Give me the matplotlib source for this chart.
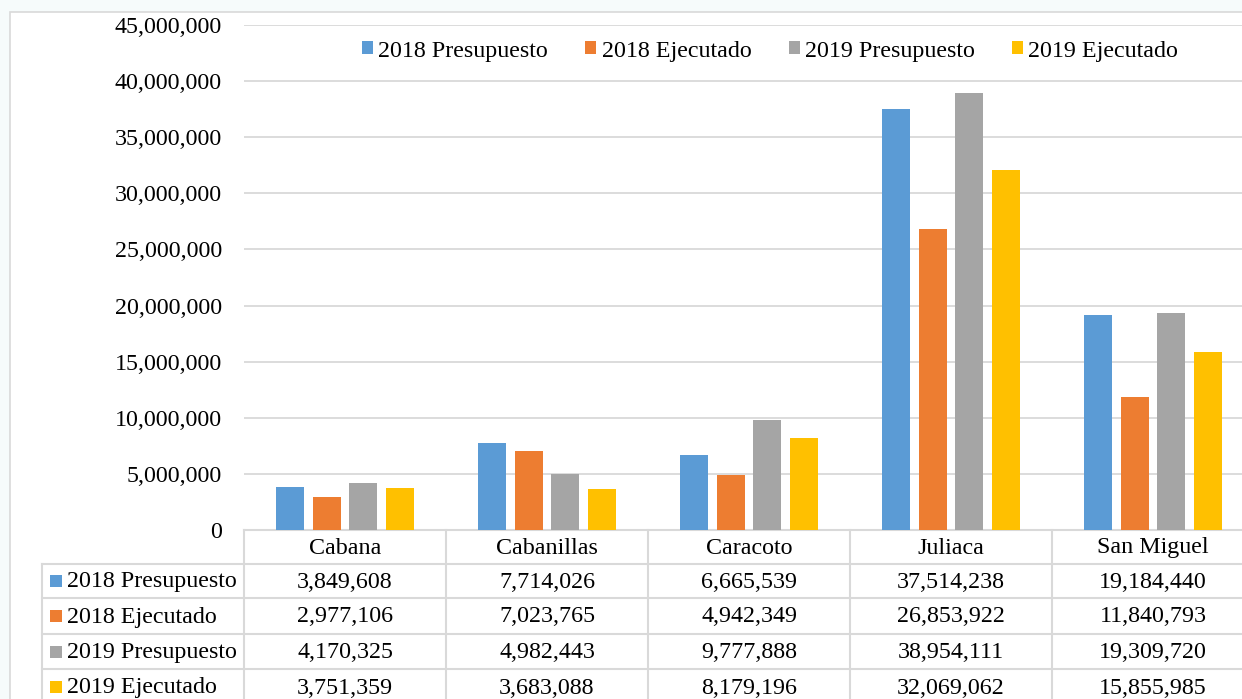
import numpy as np
import matplotlib
matplotlib.use("Agg")
import matplotlib.pyplot as plt
from matplotlib.patches import Rectangle
from matplotlib.lines import Line2D
from matplotlib.ticker import FuncFormatter

# ── data ────────────────────────────────────────────────────────────────────
categories = ["Cabana", "Cabanillas", "Caracoto", "Juliaca", "San Miguel"]
series = ["2018 Presupuesto", "2018 Ejecutado", "2019 Presupuesto", "2019 Ejecutado"]
pres_2018 = [3849608, 7714026, 6665539, 37514238, 19184440]
ejec_2018 = [2977106, 7023765, 4942349, 26853922, 11840793]
pres_2019 = [4170325, 4982443, 9777888, 38954111, 19309720]
ejec_2019 = [3751359, 3683088, 8179196, 32069062, 15855985]
values = [pres_2018, ejec_2018, pres_2019, ejec_2019]
colors = ["#5b9bd5", "#ed7d31", "#a5a5a5", "#ffc000"]

W, H = 1242, 699
GRID = "#d9d9d9"
plt.rcParams["font.family"] = ["Liberation Serif", "DejaVu Serif"]
FS = 17.3

fig = plt.figure(figsize=(W / 100, H / 100), dpi=100, facecolor="#f6fbfb")

# overlay in pixel coordinates for frame + table
ov = fig.add_axes([0, 0, 1, 1], zorder=0)
ov.set_xlim(0, W)
ov.set_ylim(H, 0)
ov.axis("off")
ov.add_patch(Rectangle((10, 12), W + 50, H + 50, facecolor="white", edgecolor=GRID, lw=1.2))

# main plot area: x from 244 to 1254 px, y from 25 to 530 px
x0, x1, ytop, ybot = 244, 1254, 25, 530
ax = fig.add_axes([x0 / W, 1 - ybot / H, (x1 - x0) / W, (ybot - ytop) / H], zorder=1)
ax.patch.set_alpha(0)
n = len(categories)
x = np.arange(n)
step = 0.182
width = 0.139
for i, (name, vals, c) in enumerate(zip(series, values, colors)):
    ax.bar(x + (i - 1.5) * step, vals, width, color=c, label=name, zorder=2)

ax.set_xlim(-0.5, n - 0.5)
ax.set_ylim(0, 45000000)
ax.set_yticks(np.arange(0, 45000001, 5000000))
ax.yaxis.set_major_formatter(FuncFormatter(lambda v, p: f"{int(v):,}"))
ax.tick_params(axis="y", length=0, pad=15.8, labelsize=FS)
ax.set_xticks([])
ax.grid(axis="y", color=GRID, lw=1.3, zorder=0)
for s in ax.spines.values():
    s.set_visible(False)

# legend: left edge at px 362, centred on y=51
ax.legend(loc="center left", bbox_to_anchor=((362 - x0) / (x1 - x0), (ybot - 51) / (ybot - ytop)),
          ncol=4, frameon=False, fontsize=FS, borderpad=0, borderaxespad=0,
          handlelength=0.46, handleheight=0.46, handletextpad=0.22, columnspacing=1.55)

# ── data table ──────────────────────────────────────────────────────────────
col_w = (x1 - x0) / n
rows_y = [530, 564, 598, 634, 669, 705]
lkw = dict(color=GRID, lw=1.5)
ov.add_line(Line2D([x0, x1], [530, 530], **lkw))
for yy in rows_y[1:]:
    ov.add_line(Line2D([42, x1], [yy, yy], **lkw))
for j in range(n + 1):
    xx = x0 + j * col_w
    ov.add_line(Line2D([xx, xx], [530, H + 10], **lkw))
ov.add_line(Line2D([42, 42], [564, H + 10], **lkw))

for j, cat in enumerate(categories):
    cx = x0 + (j + 0.5) * col_w
    ov.text(cx, (rows_y[0] + rows_y[1]) / 2 + 1, cat, ha="center", va="center", fontsize=FS)
    for i in range(len(series)):
        cy = (rows_y[i + 1] + rows_y[i + 2]) / 2 + 1
        ov.text(cx, cy, f"{values[i][j]:,}", ha="center", va="center", fontsize=FS)

for i, (name, c) in enumerate(zip(series, colors)):
    cy = (rows_y[i + 1] + rows_y[i + 2]) / 2
    ov.add_patch(Rectangle((50, cy - 6), 12, 12, facecolor=c, edgecolor="none"))
    ov.text(67, cy + 1, name, ha="left", va="center", fontsize=FS)

fig.savefig("out.png", dpi=100, facecolor=fig.get_facecolor())
